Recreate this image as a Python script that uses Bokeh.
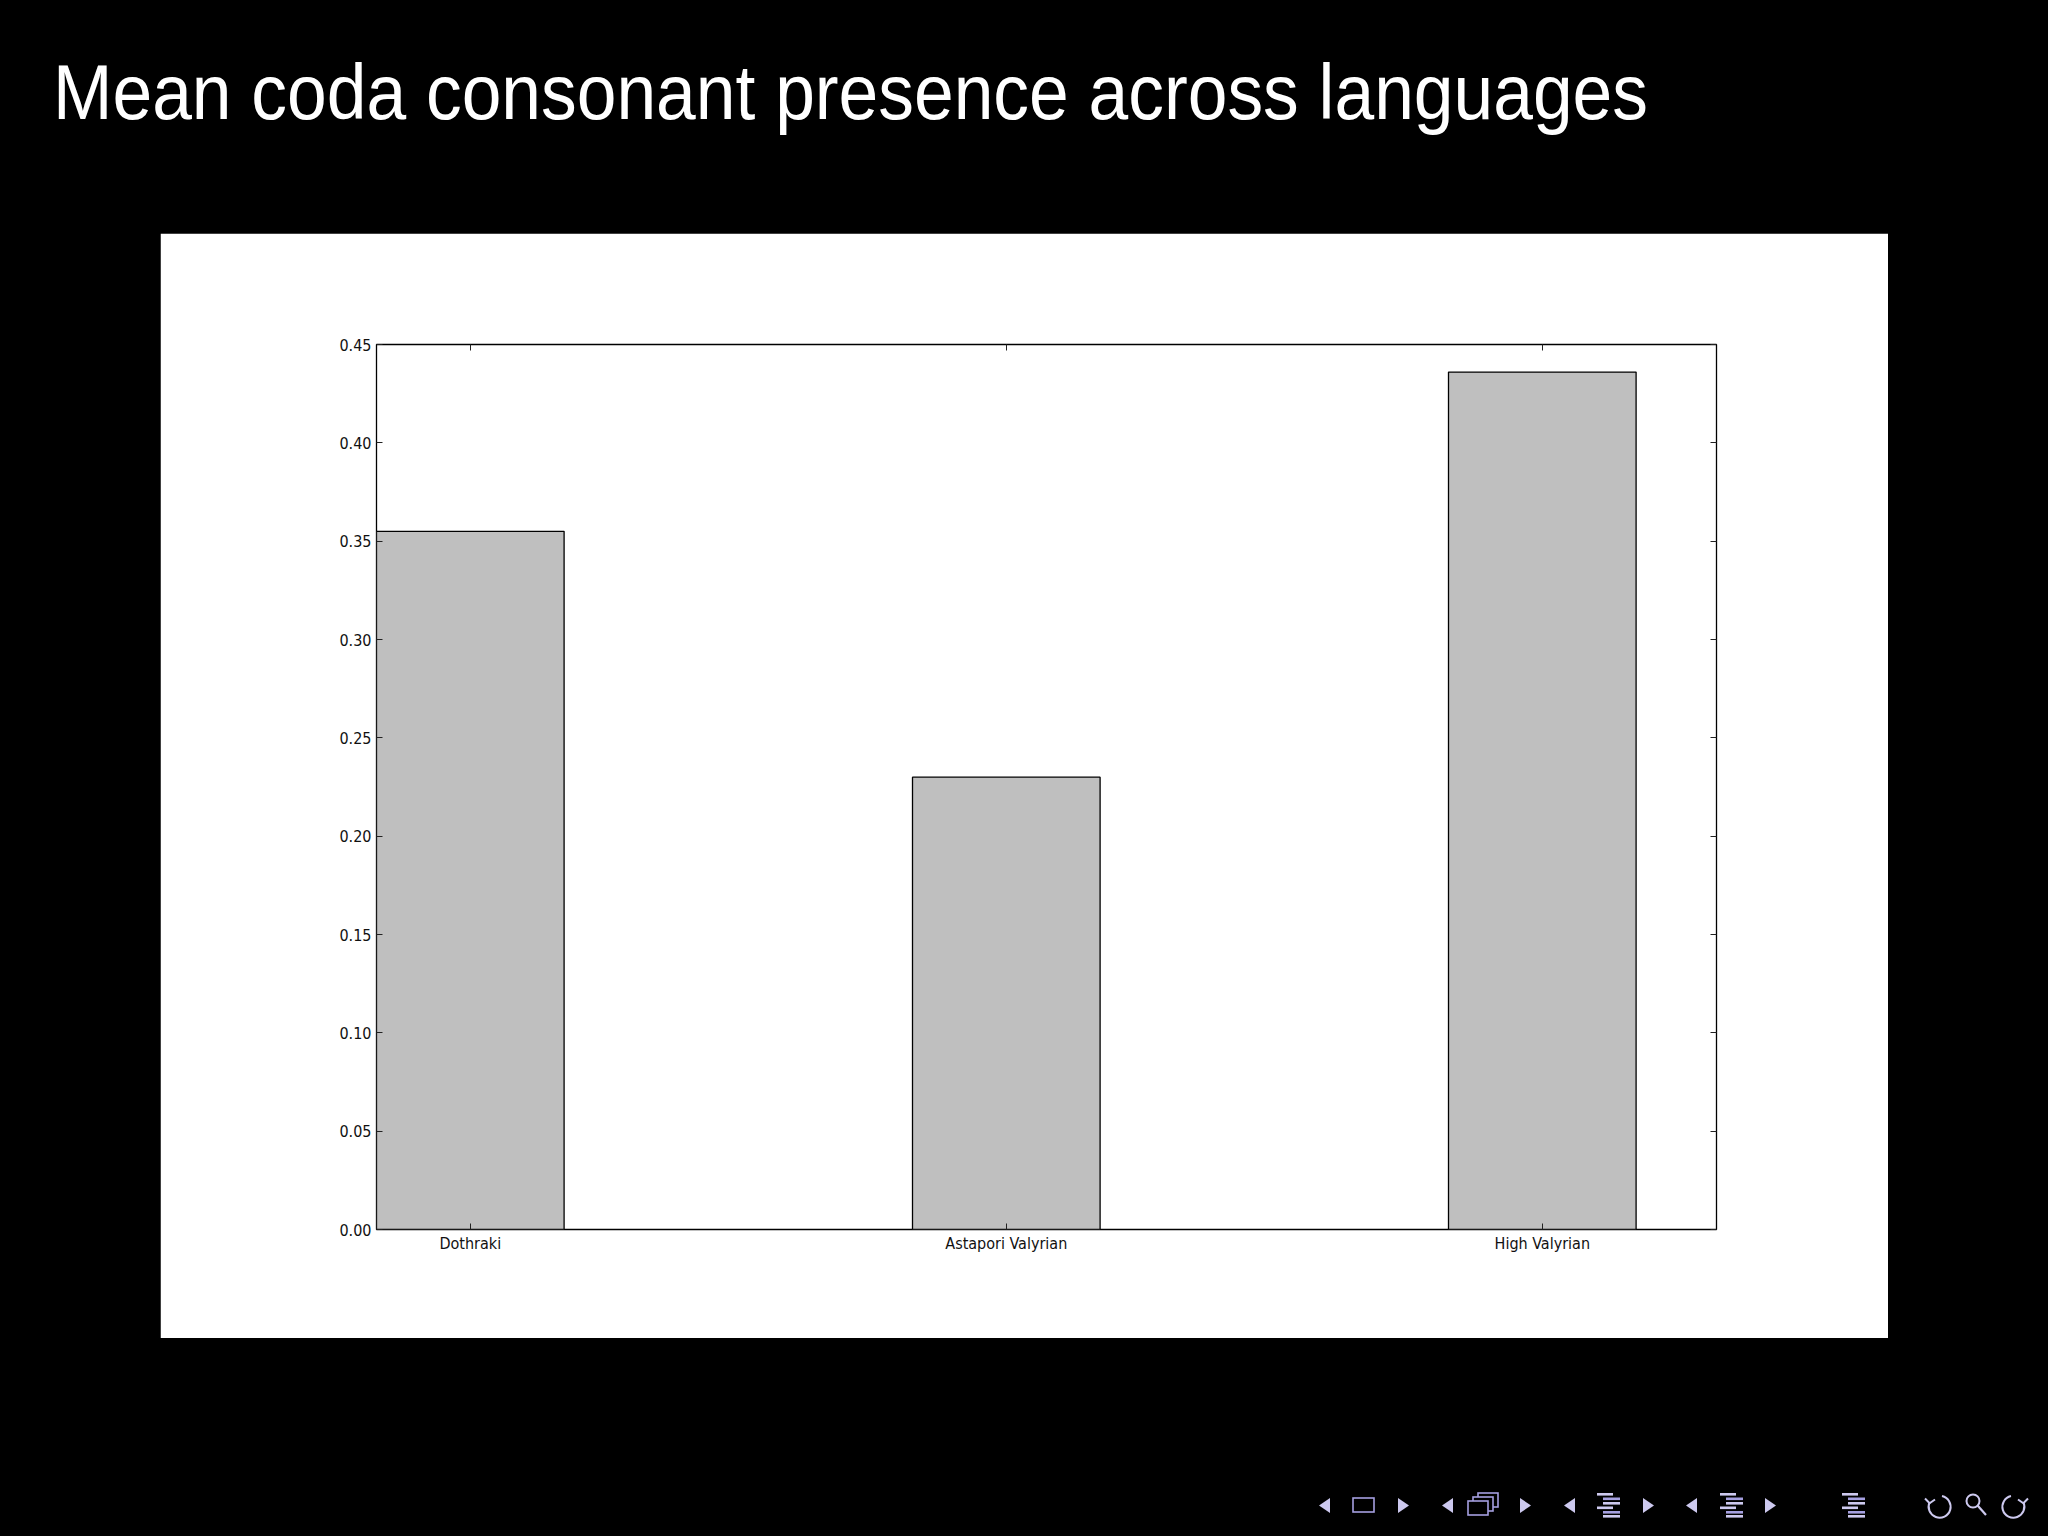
from bokeh.plotting import figure
from bokeh.models import Range1d, FixedTicker, LinearAxis, PrintfTickFormatter, CustomJSTickFormatter, Div, Spacer
from bokeh.layouts import column, row
from bokeh.embed import file_html
from bokeh.resources import INLINE

# ---------------- data ----------------
TITLE = "Mean coda consonant presence across languages"
CATEGORIES = ["Dothraki", "Astapori Valyrian", "High Valyrian"]
MEAN_CODA = [0.355, 0.230, 0.436]
Y_TICKS = [0.00, 0.05, 0.10, 0.15, 0.20, 0.25, 0.30, 0.35, 0.40, 0.45]

# ---------------- styles ----------------
BAR_W = 0.35
BAR_FILL = "#bfbfbf"
TICK_FONT = "DejaVu Sans Condensed, DejaVu Sans"
TICK_SIZE = "16px"
LAV = "#cdc9ef"
LAV_DARK = "#a59fe0"

xs = list(range(len(CATEGORIES)))

p = figure(width=1728, height=1105, output_backend="svg", toolbar_location=None,
           x_range=Range1d(-BAR_W / 2, len(CATEGORIES) - 0.5 - BAR_W / 2),
           y_range=Range1d(Y_TICKS[0], Y_TICKS[-1]),
           min_border_left=216, min_border_right=172,
           min_border_top=111, min_border_bottom=109,
           background_fill_color="white", border_fill_color="white")
p.outline_line_color = "black"
p.outline_line_width = 1.3
p.grid.visible = False

p.vbar(x=xs, top=MEAN_CODA, width=BAR_W, bottom=0,
       fill_color=BAR_FILL, line_color="black", line_width=1.3)

x_overrides = {i: c for i, c in enumerate(CATEGORIES)}

def style_axis(ax):
    ax.axis_line_color = None
    ax.major_tick_in = 6
    ax.major_tick_out = 0
    ax.major_tick_line_color = "#222222"
    ax.major_tick_line_width = 1
    ax.minor_tick_line_color = None
    ax.major_label_text_font = TICK_FONT
    ax.major_label_text_font_size = TICK_SIZE
    ax.major_label_text_color = "#111111"

xa = p.xaxis[0]
xa.ticker = FixedTicker(ticks=xs)
xa.major_label_overrides = x_overrides
xa.major_label_standoff = 4
style_axis(xa)

ya = p.yaxis[0]
ya.ticker = FixedTicker(ticks=Y_TICKS)
ya.formatter = PrintfTickFormatter(format="%.2f")
ya.major_label_standoff = 5
style_axis(ya)

blank = CustomJSTickFormatter(code="return ''")
top_ax = LinearAxis(ticker=FixedTicker(ticks=xs), formatter=blank)
style_axis(top_ax)
p.add_layout(top_ax, "above")
right_ax = LinearAxis(ticker=FixedTicker(ticks=Y_TICKS), formatter=blank)
style_axis(right_ax)
p.add_layout(right_ax, "right")

# ---------------- slide title ----------------
title_svg = (
    '<svg xmlns="http://www.w3.org/2000/svg" width="2032" height="225">'
    '<text x="45" y="110.5" font-family="Lato" font-weight="300" font-size="78" '
    'fill="#ffffff" textLength="1595" lengthAdjust="spacingAndGlyphs">'
    + TITLE + '</text></svg>'
)
title_div = Div(text=title_svg, width=2032, height=225, margin=0)

# ---------------- beamer navigation symbols ----------------
OX, OY = 8, 1338
def P(x, y):
    return f"{x - OX:.1f},{y - OY:.1f}"

parts = []
for lx in [1319, 1442, 1564, 1686]:
    parts.append(f'<polygon points="{P(lx + 11, 1498)} {P(lx, 1505.5)} {P(lx + 11, 1513)}" fill="{LAV}"/>')
for lx in [1398, 1520, 1643, 1765]:
    parts.append(f'<polygon points="{P(lx, 1498)} {P(lx + 11, 1505.5)} {P(lx, 1513)}" fill="{LAV}"/>')
parts.append(f'<rect x="{1353 - OX}" y="{1498 - OY}" width="21" height="14" fill="none" stroke="{LAV_DARK}" stroke-width="1.6"/>')
for (bx, by) in [(1478, 1493), (1473, 1497), (1468, 1501)]:
    parts.append(f'<rect x="{bx - OX}" y="{by - OY}" width="20" height="14" fill="#000" stroke="{LAV_DARK}" stroke-width="1.6"/>')
rows_spec = [(0, 1493, 16, LAV), (6, 1497.5, 17, LAV_DARK), (6, 1502, 17, LAV),
             (0, 1506.5, 16, LAV), (6, 1511, 17, LAV_DARK), (6, 1515, 17, LAV)]
for x0 in [1597, 1720, 1842]:
    for dx, yy, w, col in rows_spec:
        parts.append(f'<rect x="{x0 + dx - OX}" y="{yy - OY}" width="{w}" height="2.6" fill="{col}"/>')
# undo arrow
cx, cy = 1940 - OX, 1506 - OY
parts.append(f'<path d="M {cx + 2:.1f} {cy - 10:.1f} A 11 11 0 1 1 {cx - 10.4:.1f} {cy - 3.8:.1f}" fill="none" stroke="{LAV}" stroke-width="2"/>')
parts.append(f'<path d="M {cx - 15:.1f} {cy - 7.5:.1f} L {cx - 10.4:.1f} {cy - 2.8:.1f} L {cx - 5:.1f} {cy - 6.5:.1f}" fill="none" stroke="{LAV}" stroke-width="2"/>')
# magnifier
mx, my = 1973 - OX, 1501 - OY
parts.append(f'<circle cx="{mx}" cy="{my}" r="6.5" fill="none" stroke="{LAV}" stroke-width="2"/>')
parts.append(f'<line x1="{mx + 4.6:.1f}" y1="{my + 4.6:.1f}" x2="{mx + 13:.1f}" y2="{my + 14:.1f}" stroke="{LAV}" stroke-width="2.2"/>')
# redo arrow
rx, ry = 2013 - OX, 1506 - OY
parts.append(f'<path d="M {rx - 2:.1f} {ry - 10:.1f} A 11 11 0 1 0 {rx + 10.4:.1f} {ry - 3.8:.1f}" fill="none" stroke="{LAV}" stroke-width="2"/>')
parts.append(f'<path d="M {rx + 15:.1f} {ry - 7.5:.1f} L {rx + 10.4:.1f} {ry - 2.8:.1f} L {rx + 5:.1f} {ry - 6.5:.1f}" fill="none" stroke="{LAV}" stroke-width="2"/>')

nav_svg = ('<svg xmlns="http://www.w3.org/2000/svg" width="2032" height="190">'
           + "".join(parts) + '</svg>')
nav_div = Div(text=nav_svg, width=2032, height=190, margin=0)

layout = column(title_div,
                row(Spacer(width=152, height=1105, margin=0), p, margin=0),
                nav_div, margin=(8, 8, 8, 8))

html = file_html(layout, INLINE, title=TITLE)
html = html.replace("</head>", "<style>html,body{background:#000000;}</style></head>", 1)
open("out.html", "w").write(html)
